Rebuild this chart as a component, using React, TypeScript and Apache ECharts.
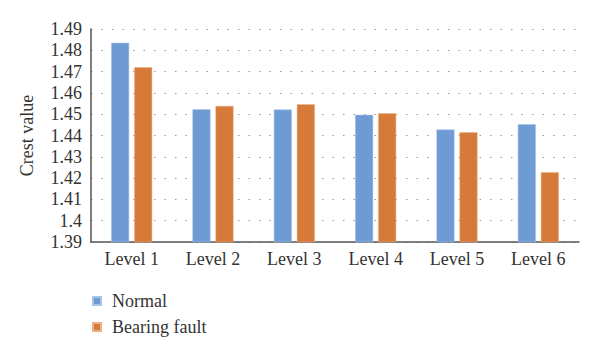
import React, { useEffect, useRef } from "react";
import * as echarts from "echarts";

const categories = ["Level 1", "Level 2", "Level 3", "Level 4", "Level 5", "Level 6"];
const normal = [1.4835, 1.4523, 1.4522, 1.4497, 1.4428, 1.4453];
const bearingFault = [1.4720, 1.4539, 1.4547, 1.4504, 1.4415, 1.4228];
const seriesNames = ["Normal", "Bearing fault"];

const FONT = "'Liberation Serif', 'Times New Roman', serif";
const FS = 18;

export default function App() {
  const ref = useRef<HTMLDivElement>(null);
  useEffect(() => {
    if (!ref.current) return;
    const chart = echarts.init(ref.current, undefined, { renderer: "svg" });
    chart.setOption({
      animation: false,
      textStyle: { fontFamily: FONT },
      grid: { left: 91, right: 21, top: 29, bottom: 115, containLabel: false },
      legend: {
        orient: "vertical",
        left: 87,
        top: 287,
        itemWidth: 8,
        itemHeight: 8,
        itemGap: 8,
        icon: "rect",
        formatter: (n: string) => "{t|" + n + "}",
        textStyle: {
          fontFamily: FONT,
          fontSize: FS,
          color: "#333",
          rich: { t: { fontFamily: FONT, fontSize: FS, color: "#333", padding: [0, 0, 0, 6] } },
        },
        data: seriesNames,
      },
      xAxis: {
        type: "category",
        data: categories,
        axisLine: { lineStyle: { color: "#555", width: 1.5 } },
        axisTick: { show: false },
        axisLabel: { fontFamily: FONT, fontSize: FS, color: "#333", margin: 8 },
      },
      yAxis: {
        type: "value",
        min: 1.39,
        max: 1.49,
        interval: 0.01,
        name: "Crest value",
        nameLocation: "middle",
        nameGap: 55,
        nameTextStyle: { fontFamily: FONT, fontSize: FS, color: "#333" },
        axisLine: { show: true, lineStyle: { color: "#555", width: 1.5 } },
        axisTick: { show: false },
        axisLabel: {
          fontFamily: FONT,
          fontSize: FS,
          color: "#333",
          margin: 9,
          formatter: (v: number) => String(parseFloat(v.toFixed(2))),
        },
        splitLine: { show: true, lineStyle: { color: "#999", type: [1.5, 9], width: 1.2 } },
      },
      series: [
        {
          name: seriesNames[0],
          type: "bar",
          data: normal,
          barWidth: 18,
          barGap: "28%",
          itemStyle: { color: "#6f9bd4", borderColor: "#a9c3e6", borderWidth: 0.5 },
        },
        {
          name: seriesNames[1],
          type: "bar",
          data: bearingFault,
          barWidth: 18,
          itemStyle: { color: "#d67a3a", borderColor: "#eab08a", borderWidth: 0.5 },
        },
      ],
    });
    return () => chart.dispose();
  }, []);
  return <div ref={ref} style={{ width: 600, height: 357, position: "absolute", left: 0, top: 0 }} />;
}
